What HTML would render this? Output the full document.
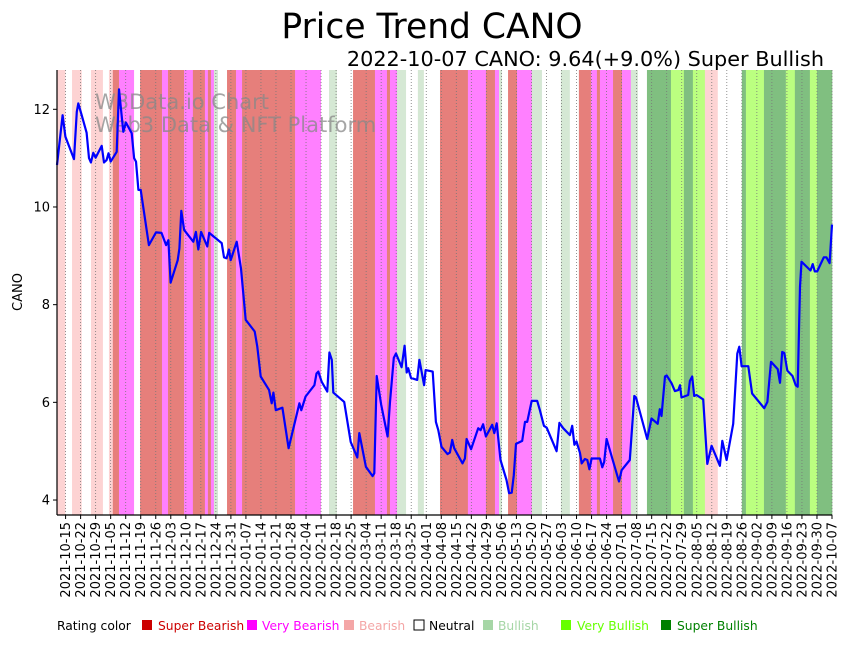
<!DOCTYPE html>
<html><head><meta charset="utf-8"><style>
body{margin:0;background:#fff;width:848px;height:641px;overflow:hidden;font-family:"Liberation Sans","DejaVu Sans",sans-serif}
</style></head><body>
<svg id="chart" width="848" height="641" xmlns="http://www.w3.org/2000/svg" font-family="DejaVu Sans, Liberation Sans, sans-serif">
<text x="432" y="38" text-anchor="middle" font-size="34.5">Price Trend CANO</text>
<text x="824" y="66" text-anchor="end" font-size="20.8">2022-10-07 CANO: 9.64(+9.0%) Super Bullish</text>
<g id="bands"></g>
<g id="grid"></g>
<g fill="#888" fill-opacity="0.75" font-size="21">
<text x="95" y="109">W3Data.io Chart</text><text x="95" y="132">Web3 Data &amp; NFT Platform</text></g>
<path id="line" fill="none" stroke="#0000ff" stroke-width="2.2" stroke-linejoin="round"/>
<g id="axes"></g>
<text transform="translate(22,292) rotate(-90)" text-anchor="middle" font-size="13">CANO</text>
<g font-size="12.3">
<text x="57" y="630">Rating color</text>
<rect x="142" y="620" width="10" height="10" fill="#cc0000"/><text x="158" y="630" fill="#cc0000">Super Bearish</text>
<rect x="247" y="620" width="10" height="10" fill="#ff00ff"/><text x="262" y="630" fill="#ff00ff">Very Bearish</text>
<rect x="344" y="620" width="10" height="10" fill="#f4a6a6"/><text x="359" y="630" fill="#f4a6a6">Bearish</text>
<rect x="414" y="620" width="10" height="10" fill="none" stroke="#000"/><text x="429" y="630">Neutral</text>
<rect x="483" y="620" width="10" height="10" fill="#a6d6a6"/><text x="498" y="630" fill="#a6d6a6">Bullish</text>
<rect x="561" y="620" width="10" height="10" fill="#66ff00"/><text x="577" y="630" fill="#66ff00">Very Bullish</text>
<rect x="661" y="620" width="10" height="10" fill="#008000"/><text x="677" y="630" fill="#008000">Super Bullish</text>
</g>
</svg>
<script>
// day offsets from 2021-10-11
const bandStarts=[0,3.9,7,11.5,15.8,21.4,24.2,26,28.9,35.9,38.7,48.9,51.7,59.2,63.3,68.9,70.3,71.7,73.1,75,79.2,83.4,86.2,110.9,123,126.7,130.4,137.9,148.1,153.7,155.1,158.4,162.6,168.1,170.9,178.4,191.4,199.8,204,205.9,207.3,210.1,214.3,221.2,225.9,234.7,238.9,243.1,248.7,251.5,252.9,259,263.2,267.3,270.6,274.8,286,292,296.2,301.8,307.8,319,320.9,329.3,339.5,343.7,350.7,354];
const bandRatings=["B","N","B","N","B","N","B","SB","VB","N","SB","VB","SB","VB","SB","VB","SB","VB","U","N","SB","VB","SB","VB","N","U","N","SB","VB","SB","VB","U","N","U","N","SB","VB","SB","VB","U","N","SB","VB","U","N","U","N","SB","VB","SB","VB","SB","VB","U","N","SU","VU","SU","VU","B","N","SU","VU","SU","VU","SU","VU","SU"];
const priceDays=[0,2.6,3.9,7.9,9.2,9.9,11.5,13.8,14.9,15.8,16.9,18,20.8,21.9,23.1,24,25,27.8,28.9,30.9,32.1,34.8,35.9,36.8,37.9,39,42.8,46.1,48.7,50.8,51.9,52.9,56.2,57,57.9,59.2,63.5,64.7,65.8,67.1,70,70.9,76.7,77.8,79,80.1,80.9,83.7,85.7,87.9,92.1,93.3,94.9,98.8,100,100.8,101.9,105,107.9,112.9,113.8,115.8,119.9,120.9,121.7,123.3,125.9,126.9,128,128.7,133.8,136.8,139.9,140.8,143.9,147,147.8,148.9,151,154,155.1,156.9,157.9,160.5,161.9,162.9,163.6,164.9,167.8,168.8,171,171.7,175,176.5,177.6,179.1,181.9,183,184.1,185,188.9,190,190.8,192.9,196.2,197.3,198.5,199.8,202.7,203.7,204.8,206.6,209.4,210.6,211.8,212.8,213.8,216.7,218,219,221.1,223.7,225,226.8,228.1,232.7,234,235.8,238.9,240,241,242,243.6,244.4,245.9,247,248,249,252.9,254,254.9,256,261.8,263,266.8,268.9,269.7,274.9,276.9,279.8,280.8,281.6,283.2,284,286.3,287.8,289.4,290.2,290.9,294,294.8,295.9,296.8,297.9,301,302.9,304.9,308.8,309.9,311.9,315,316.9,317.8,318.9,322,323.8,329.4,330.9,332.6,335.7,336.8,337.8,338.8,340.2,342.6,344.1,345,346.1,346.8,351,352,353,354.1,357.2,358.4,359.9,361];
const priceValues=[10.86,11.88,11.44,10.98,11.95,12.12,11.88,11.52,11.0,10.91,11.11,11.01,11.25,10.91,10.96,11.1,10.93,11.13,12.41,11.54,11.73,11.51,11.0,10.93,10.35,10.35,9.22,9.48,9.47,9.22,9.32,8.45,8.91,9.15,9.92,9.53,9.29,9.49,9.13,9.49,9.19,9.47,9.26,8.97,8.95,9.13,8.91,9.29,8.74,7.69,7.45,7.14,6.53,6.25,5.98,6.2,5.84,5.89,5.06,5.98,5.84,6.12,6.35,6.59,6.63,6.42,6.22,7.02,6.87,6.2,6.01,5.19,4.87,5.37,4.68,4.49,4.55,6.54,5.95,5.3,6.01,6.91,7.0,6.72,7.16,6.61,6.7,6.5,6.46,6.87,6.35,6.66,6.63,5.6,5.43,5.09,4.94,4.97,5.23,5.06,4.75,4.85,5.25,5.04,5.47,5.43,5.55,5.3,5.54,5.37,5.57,4.82,4.41,4.14,4.15,4.51,5.15,5.21,5.6,5.6,6.03,6.03,5.83,5.52,5.48,5.0,5.58,5.47,5.33,5.52,5.13,5.2,4.96,4.75,4.84,4.82,4.63,4.85,4.85,4.67,4.78,5.25,4.38,4.61,4.82,6.13,6.1,5.25,5.67,5.56,5.86,5.72,6.53,6.55,6.39,6.23,6.25,6.35,6.1,6.15,6.44,6.53,6.13,6.15,6.06,4.74,5.11,4.7,5.21,4.82,5.56,7.0,7.14,6.74,6.74,6.18,5.88,6.01,6.83,6.68,6.4,7.03,7.01,6.65,6.54,6.35,6.32,8.37,8.88,8.7,8.83,8.68,8.68,8.97,8.97,8.85,9.64];
const yTicks=[4,6,8,10,12];
const startDate=new Date(Date.UTC(2021,9,11));
const firstTickDate=new Date(Date.UTC(2021,9,15));
const tickCount=52;

const L=57,R=832,T=70,B=515,totalDays=361;
const xs=d=>L+d*(R-L)/totalDays;
const ys=p=>109.3+(12-p)*48.84;
const colors={SB:"#e67f7b",VB:"#ff80ff",B:"#fdd3d3",N:"#ffffff",U:"#d5e8d4",VU:"#bbff80",SU:"#80bf80"};
const NS="http://www.w3.org/2000/svg";
const mk=(t,a,p)=>{const e=document.createElementNS(NS,t);for(const k in a)e.setAttribute(k,a[k]);p.appendChild(e);return e;};
const bandsG=document.getElementById('bands');
bandStarts.forEach((s,i)=>{
  const e=i<bandStarts.length-1?bandStarts[i+1]:totalDays;
  const r=mk('rect',{x:xs(s),y:T,width:xs(e)-xs(s)+0.3,height:B-T,fill:colors[bandRatings[i]]},bandsG);
  
  
});
const grid=document.getElementById('grid'),axes=document.getElementById('axes');
const dayMs=86400000;
for(let k=0;k<tickCount;k++){
  const dt=new Date(firstTickDate.getTime()+k*7*dayMs);
  const d=(dt-startDate)/dayMs;const x=xs(d);
  const gl=mk('line',{x1:x,x2:x,y1:T,y2:B,stroke:"#777",'stroke-width':0.8,'stroke-dasharray':'1,2'},grid);
  
  
  mk('line',{x1:x,x2:x,y1:B,y2:B+4,stroke:"#000"},axes);
  const lab=dt.toISOString().slice(0,10);
  const t=mk('text',{transform:`translate(${x+4.5},${B+7}) rotate(-90)`,'text-anchor':'end','font-size':13},axes);
  t.textContent=lab;
  
  
}
yTicks.forEach(v=>{
  const y=ys(v);
  mk('line',{x1:L-4,x2:L,y1:y,y2:y,stroke:"#000"},axes);
  const t=mk('text',{x:L-7,y:y+4.5,'text-anchor':'end','font-size':13},axes);
  t.textContent=v;
  
  
});
mk('line',{x1:L,x2:L,y1:T,y2:B,stroke:"#000",'stroke-width':1.2},axes);
mk('line',{x1:L,x2:R,y1:B,y2:B,stroke:"#000",'stroke-width':1.2},axes);
document.getElementById('line').setAttribute('d',priceDays.map((d,i)=>(i?'L':'M')+xs(d).toFixed(1)+','+ys(priceValues[i]).toFixed(1)).join(''));
</script>
</body></html>
